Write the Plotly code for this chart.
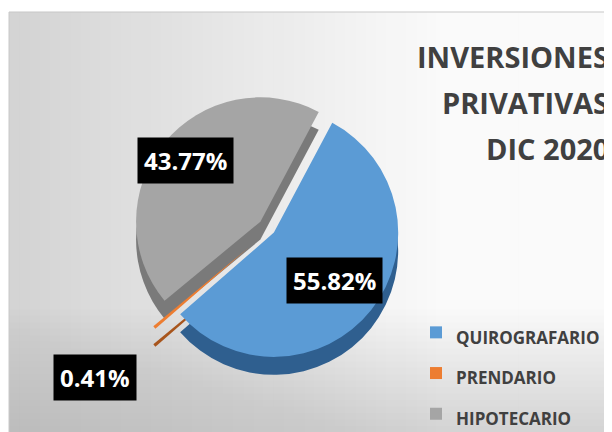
import math
import plotly.graph_objects as go

# ---- data ----
labels = ["QUIROGRAFARIO", "PRENDARIO", "HIPOTECARIO"]
values = [55.82, 0.41, 43.77]
label_text = ["55.82%", "0.41%", "43.77%"]
title_lines = ["INVERSIONES", "PRIVATIVAS", "DIC 2020"]

# ---- style ----
W, H = 612, 432
top_colors = ["#5B9BD5", "#ED7D31", "#A5A5A5"]
side_colors = ["#2F5F8F", "#A8551C", "#7A7A7A"]
pulls = [0.04, 0.22, 0.10]
rotation = 28
cx, cy = 262, 222          # pie centre in plot px (from top-left)
half = 152                 # half-size of pie domain in px
depth = 18                 # 3D side thickness in px
FONT = "Open Sans"

# legend labels: visible text smaller than the legend row height
legend_labels = [f"<span style='font-size:17px'>{s}</span>" for s in labels]

def dom(xc, yc):
    return dict(x=[(xc - half) / W, (xc + half) / W],
                y=[1 - (yc + half) / H, 1 - (yc - half) / H])

fig = go.Figure()

# background gradient
n = 60
x0, x1, y0 = 1, W, 4
for i in range(n):
    t = i / (n - 1)
    g = int(212 + (250 - 212) * min(1, t / 0.7))
    fig.add_shape(type="rect", xref="paper", yref="paper",
                  x0=(x0 + (x1 - x0) * i / n) / W, x1=(x0 + (x1 - x0) * (i + 1) / n + 1) / W,
                  y0=0, y1=1 - y0 / H, line_width=0,
                  fillcolor=f"rgb({g},{g},{g})", layer="below")
for i in range(20):
    fig.add_shape(type="rect", xref="paper", yref="paper",
                  x0=x0 / W, x1=1, y0=0, y1=(130 - i * 6.5) / H, line_width=0,
                  fillcolor="rgba(150,150,150,0.018)", layer="below")
fig.add_shape(type="rect", xref="paper", yref="paper",
              x0=x0 / W, x1=1, y0=0, y1=1 - y0 / H,
              line=dict(color="#C8C8C8", width=1), fillcolor="rgba(0,0,0,0)", layer="below")

# 3D side (shadow pie offset downwards)
fig.add_trace(go.Pie(labels=legend_labels, values=values, sort=False, direction="clockwise",
                     rotation=rotation, pull=pulls, domain=dom(cx, cy + depth),
                     marker=dict(colors=side_colors, line=dict(width=0)),
                     textinfo="none", hoverinfo="skip", showlegend=False))
# top surface
fig.add_trace(go.Pie(labels=legend_labels, values=values, sort=False, direction="clockwise",
                     rotation=rotation, pull=pulls, domain=dom(cx, cy),
                     marker=dict(colors=top_colors, line=dict(width=0)),
                     textinfo="none", showlegend=True))

# data labels (positions derived from slice angles)
R = half / (1 + max(pulls))
total = sum(values)
cum = 0
label_r = [0.62, 1.62, 0.78]
for i, v in enumerate(values):
    mid = rotation + (cum + v / 2) / total * 360
    cum += v
    a = math.radians(mid)
    r = R * (label_r[i] + pulls[i])
    px = cx + r * math.sin(a)
    py = cy - r * math.cos(a)
    fig.add_annotation(x=px / W, y=1 - py / H, xref="paper", yref="paper",
                       xanchor="center", yanchor="middle",
                       text=label_text[i], showarrow=False,
                       font=dict(family=FONT, size=24, color="white", weight="bold"),
                       bgcolor="black", borderpad=6)

# title
for j, line in enumerate(title_lines):
    fig.add_annotation(x=603 / W, y=1 - (49 + 46 * j) / H, xref="paper", yref="paper",
                       xanchor="right", yanchor="middle", showarrow=False,
                       text=line,
                       font=dict(family=FONT, size=29, color="#404040", weight="bold"))

fig.update_layout(
    width=W, height=H,
    margin=dict(l=0, r=0, t=0, b=0),
    paper_bgcolor="white", plot_bgcolor="rgba(0,0,0,0)",
    legend=dict(x=408 / W, y=1 - 366 / H, xanchor="left", yanchor="middle",
                font=dict(family=FONT, size=29, color="#404040", weight="bold"),
                bgcolor="rgba(0,0,0,0)", traceorder="normal"),
    font=dict(family=FONT),
)

fig.write_html("out.html")
